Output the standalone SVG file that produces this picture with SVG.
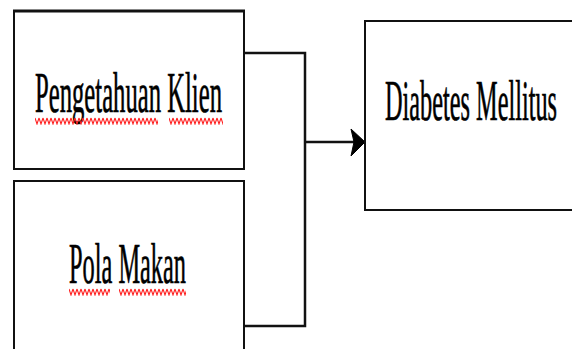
<svg xmlns="http://www.w3.org/2000/svg" width="572" height="349" viewBox="0 0 572 349">
  <style>
    .box { fill: #ffffff; stroke: #111111; stroke-width: 2; }
    .lbl { font-family: "Liberation Serif", "Times New Roman", serif; font-size: 56px; fill: #000000; stroke: #000000; stroke-width: 0.7; }
    .wire { fill: none; stroke: #111111; stroke-width: 2.5; }
  </style>
  <defs>
    <pattern id="squig" width="4" height="8" patternUnits="userSpaceOnUse">
      <path d="M0 1 L2 7 L4 1" fill="none" stroke="#ff2020" stroke-width="1.1"/>
    </pattern>
  </defs>
  <rect width="572" height="349" fill="#ffffff"/>

  <g id="connectors">
    <polyline class="wire" points="244,53 305,53 305,326 244,326"/>
    <line class="wire" x1="305" y1="142" x2="354" y2="142"/>
    <polygon points="351,129 365,142 351,156 354,142" fill="#000000" stroke="#000" stroke-width="1"/>
  </g>

  <g id="node-pengetahuan">
    <rect class="box" x="14" y="11" width="230" height="158"/>
    <line x1="13" y1="11" x2="245" y2="11" stroke="#111" stroke-width="3"/>
    <text class="lbl" x="35" y="112" textLength="187" lengthAdjust="spacingAndGlyphs">Pengetahuan Klien</text>
    <g transform="translate(35,117)"><rect width="123" height="8" fill="url(#squig)"/></g>
    <g transform="translate(169,117)"><rect width="54" height="8" fill="url(#squig)"/></g>
  </g>

  <g id="node-pola">
    <rect class="box" x="14" y="181" width="230" height="190"/>
    <text class="lbl" x="69" y="283" textLength="117" lengthAdjust="spacingAndGlyphs">Pola Makan</text>
    <g transform="translate(69,288)"><rect width="41" height="8" fill="url(#squig)"/></g>
    <g transform="translate(119,288)"><rect width="67" height="8" fill="url(#squig)"/></g>
  </g>

  <g id="node-diabetes">
    <rect class="box" x="365" y="21" width="230" height="189"/>
    <text class="lbl" x="385" y="120" textLength="172" lengthAdjust="spacingAndGlyphs">Diabetes Mellitus</text>
  </g>
</svg>
